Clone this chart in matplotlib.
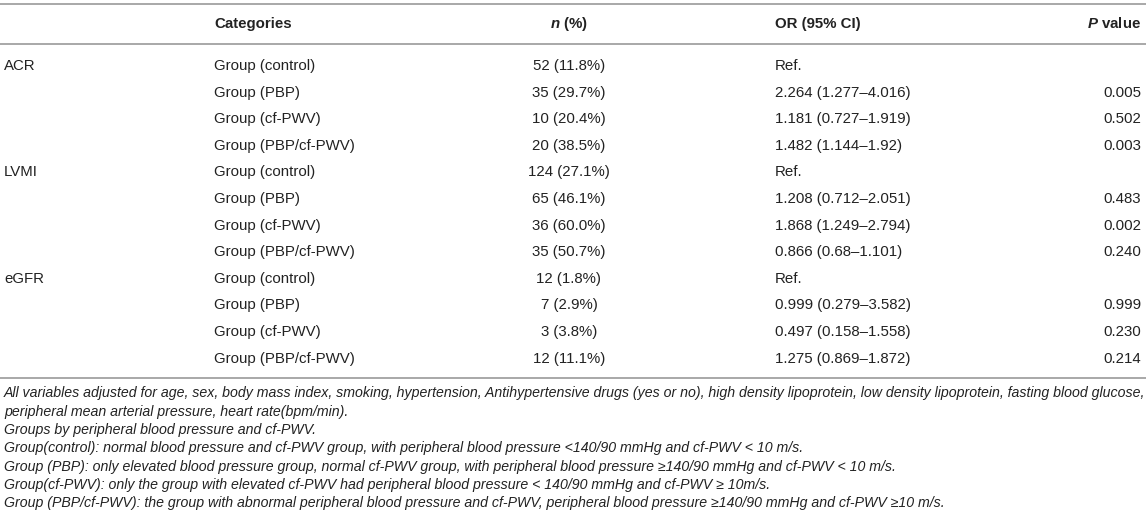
import matplotlib.pyplot as plt

plt.rcParams['font.family'] = ['Liberation Sans', 'DejaVu Sans']
plt.rcParams['mathtext.fontset'] = 'custom'
plt.rcParams['mathtext.bfit'] = 'Liberation Sans:italic:bold'
plt.rcParams['mathtext.rm'] = 'Liberation Sans'
plt.rcParams['mathtext.bf'] = 'Liberation Sans:bold'

# table content
headers = ['Categories', 'n (%)', 'OR (95% CI)', 'P value']
outcomes = ['ACR', 'LVMI', 'eGFR']
groups = ['Group (control)', 'Group (PBP)', 'Group (cf-PWV)', 'Group (PBP/cf-PWV)']
n_pct = [
    ['52 (11.8%)', '35 (29.7%)', '10 (20.4%)', '20 (38.5%)'],
    ['124 (27.1%)', '65 (46.1%)', '36 (60.0%)', '35 (50.7%)'],
    ['12 (1.8%)', '7 (2.9%)', '3 (3.8%)', '12 (11.1%)'],
]
odds = [
    ['Ref.', '2.264 (1.277–4.016)', '1.181 (0.727–1.919)', '1.482 (1.144–1.92)'],
    ['Ref.', '1.208 (0.712–2.051)', '1.868 (1.249–2.794)', '0.866 (0.68–1.101)'],
    ['Ref.', '0.999 (0.279–3.582)', '0.497 (0.158–1.558)', '1.275 (0.869–1.872)'],
]
p_vals = [
    ['', '0.005', '0.502', '0.003'],
    ['', '0.483', '0.002', '0.240'],
    ['', '0.999', '0.230', '0.214'],
]
notes = [
    'All variables adjusted for age, sex, body mass index, smoking, hypertension, Antihypertensive drugs (yes or no), '
    'high density lipoprotein, low density lipoprotein, fasting blood glucose,',
    'peripheral mean arterial pressure, heart rate(bpm/min).',
    'Groups by peripheral blood pressure and cf-PWV.',
    'Group(control): normal blood pressure and cf-PWV group, with peripheral blood pressure <140/90 mmHg and cf-PWV < 10 m/s.',
    'Group (PBP): only elevated blood pressure group, normal cf-PWV group, with peripheral blood pressure ≥140/90 mmHg and cf-PWV < 10 m/s.',
    'Group(cf-PWV): only the group with elevated cf-PWV had peripheral blood pressure < 140/90 mmHg and cf-PWV ≥ 10m/s.',
    'Group (PBP/cf-PWV): the group with abnormal peripheral blood pressure and cf-PWV, peripheral blood pressure ≥140/90 mmHg and cf-PWV ≥10 m/s.',
]

W, H = 1146, 529
fig = plt.figure(figsize=(W / 100, H / 100), dpi=100)
ax = fig.add_axes([0, 0, 1, 1])
ax.set_xlim(0, W)
ax.set_ylim(H, 0)
ax.axis('off')

txt = '#222222'
rule = '#a8a8a8'
fs = 10.8

# column positions
x_out, x_cat, x_n, x_or, x_p = 4, 214, 569, 775, 1141

# rules
for y in (4, 44, 378):
    ax.plot([0, W], [y, y], color=rule, lw=1.4, solid_capstyle='butt')

# header
hy = 28
ax.text(x_cat, hy, headers[0], fontsize=fs, fontweight='bold', color=txt, va='baseline', ha='left')
ax.text(x_n, hy, r'$\mathbfit{n}$ (%)', fontsize=fs, fontweight='bold', color=txt, va='baseline', ha='center')
ax.text(x_or, hy, headers[2], fontsize=fs, fontweight='bold', color=txt, va='baseline', ha='left')
ax.text(x_p, hy, r'$\mathbfit{P}$ value', fontsize=fs, fontweight='bold', color=txt, va='baseline', ha='right')

# body rows
y0, dy = 70, 26.6
row = 0
for i, name in enumerate(outcomes):
    for j, g in enumerate(groups):
        y = y0 + row * dy
        if j == 0:
            ax.text(x_out, y, name, fontsize=fs, color=txt, va='baseline', ha='left')
        ax.text(x_cat, y, g, fontsize=fs, color=txt, va='baseline', ha='left')
        ax.text(x_n, y, n_pct[i][j], fontsize=fs, color=txt, va='baseline', ha='center')
        ax.text(x_or, y, odds[i][j], fontsize=fs, color=txt, va='baseline', ha='left')
        ax.text(x_p, y, p_vals[i][j], fontsize=fs, color=txt, va='baseline', ha='right')
        row += 1

# footnotes
for k, line in enumerate(notes):
    ax.text(x_out, 397.5 + k * 18.3, line, fontsize=10.2, style='italic', color=txt,
            va='baseline', ha='left')

fig.savefig('out.png', dpi=100)
